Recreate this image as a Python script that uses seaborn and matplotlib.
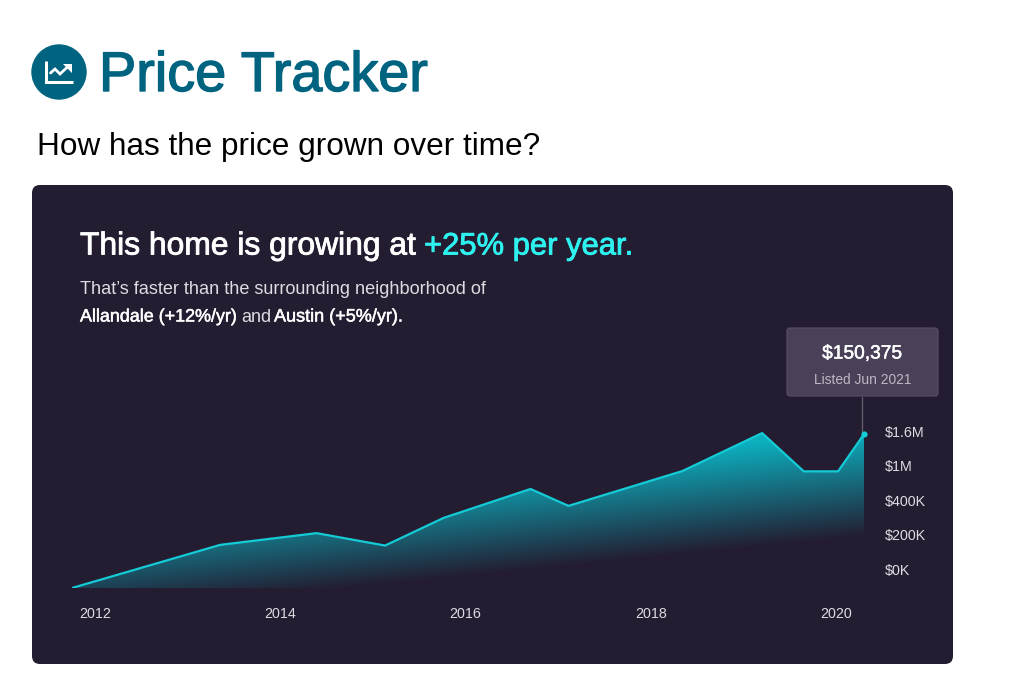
import numpy as np
import pandas as pd
import matplotlib
matplotlib.use("Agg")
import matplotlib.pyplot as plt
import matplotlib.patheffects as pe
from matplotlib.patches import FancyBboxPatch, Circle, Polygon
import seaborn as sns

# values, y is in tick steps because the axis is not linear
years = [2011.75, 2013.35, 2014.39, 2015.13, 2015.76, 2016.70, 2017.11, 2018.34, 2019.20, 2019.65, 2020.02, 2020.30]
levels = [-0.55, 0.70, 1.04, 0.68, 1.48, 2.32, 1.83, 2.84, 3.94, 2.83, 2.83, 3.91]
year_ticks = [2012, 2014, 2016, 2018, 2020]
price_ticks = [0, 1, 2, 3, 4]
price_labels = ["$0K", "$200K", "$400K", "$1M", "$1.6M"]

BG = "#241c30"
TEAL = "#00637f"
LINE = "#14cbd6"
CYAN = "#2ef2f0"
SOFT = "#dedbe2"
W, H = 1009, 695

sns.set_theme(style="white")
plt.rcParams["font.family"] = ["Liberation Sans", "DejaVu Sans"]

df = pd.DataFrame({"year": years, "level": levels})

fig = plt.figure(figsize=(W / 100, H / 100), dpi=100, facecolor="white")

# full figure axes in pixels for the page furniture
page = fig.add_axes([0, 0, 1, 1])
page.set_xlim(0, W)
page.set_ylim(H, 0)
page.axis("off")


def label(x, y, s, color, size, stroke=0.0, ha="left"):
    # the original face is a medium weight, thicken with a thin stroke
    t = page.text(x, y, s, color=color, fontsize=size, ha=ha, va="center_baseline")
    if stroke:
        t.set_path_effects([pe.withStroke(linewidth=stroke, foreground=color)])
    return t


# icon
page.add_patch(Circle((59, 72), 27, color=TEAL))
page.plot([46, 46, 72.5], [61, 82, 82], color="white", lw=2.2, solid_capstyle="butt", solid_joinstyle="miter")
page.plot([50.5, 55, 60, 68], [73, 69, 74, 66.5], color="white", lw=2, solid_joinstyle="miter")
page.add_patch(Polygon([[63, 63.5], [72, 63.5], [72, 72.5]], color="white", lw=0))

label(99, 71, "Price Tracker", TEAL, 40.2, stroke=1.0)
label(37, 144, "How has the price grown over time?", "black", 22.7)

# card
page.add_patch(FancyBboxPatch((40, 193), 905, 463, boxstyle="round,pad=8,rounding_size=8", fc=BG, ec="none"))

label(80, 243, "This home is growing at", "white", 22.9, stroke=0.6)
label(424, 243, "+25% per year.", CYAN, 22.3, stroke=0.6)
label(80, 288, "That\u2019s faster than the surrounding neighborhood of", SOFT, 13.1)
label(80, 315, "Allandale (+12%/yr)", "white", 12.9, stroke=0.35)
label(241, 315, "and", SOFT, 13)
label(274, 315, "Austin (+5%/yr).", "white", 13, stroke=0.35)

# tooltip
page.add_patch(FancyBboxPatch((790, 331), 145, 62, boxstyle="round,pad=3,rounding_size=3", fc="#4a4058", ec="#5a5068", lw=0.8))
label(862, 352, "$150,375", "white", 13.8, stroke=0.35, ha="center")
label(863, 379, "Listed Jun 2021", "#bdb8c4", 9.9, ha="center")
page.plot([862, 862], [397, 432], color="#5f5a68", lw=1)

# chart axes, bottom at the baseline of the area
left, right, top, bottom = 72, 864, 420, 588
ax = fig.add_axes([left / W, 1 - bottom / H, (right - left) / W, (bottom - top) / H])
ax.patch.set_alpha(0)
sns.lineplot(data=df, x="year", y="level", color=LINE, lw=1.6, ax=ax, zorder=3)
ax.set_xlim(years[0], years[-1])
ax.set_ylim(levels[0], (569 - top) / 34.5)

# slanted vertical fade, clipped to the area under the line
area = ax.fill_between(years, levels, levels[0], color="none")
gx, gy = np.meshgrid(np.linspace(0, 1, 400), np.linspace(1, 0, 400))
px = left + gx * (right - left)
py = top + (1 - gy) * (bottom - top)
fade = np.clip((537 + (864 - px) * 0.1 - py) / 105, 0, 1)
rgba = np.zeros(fade.shape + (4,))
rgba[..., :3] = matplotlib.colors.to_rgb("#0cb0c0")
rgba[..., 3] = fade
im = ax.imshow(rgba, extent=[*ax.get_xlim(), *ax.get_ylim()], origin="upper", aspect="auto", zorder=2)
im.set_clip_path(area.get_paths()[0], transform=ax.transData)
ax.set_xlim(years[0], years[-1])

# end dot
sns.scatterplot(x=[years[-1]], y=[levels[-1]], color=LINE, s=20, linewidth=0, ax=ax, zorder=4, clip_on=False)

ax.set_xticks(year_ticks)
ax.set_xticklabels(year_ticks)
ax.yaxis.tick_right()
ax.set_yticks(price_ticks)
ax.set_yticklabels(price_labels, ha="left")
ax.tick_params(axis="x", length=0, pad=14, labelsize=10.3, labelcolor=SOFT)
ax.tick_params(axis="y", length=0, pad=15, labelsize=10.3, labelcolor=SOFT)
ax.set_xlabel("")
ax.set_ylabel("")
sns.despine(ax=ax, left=True, bottom=True, right=True, top=True)

fig.savefig("out.png", dpi=100, facecolor="white")
